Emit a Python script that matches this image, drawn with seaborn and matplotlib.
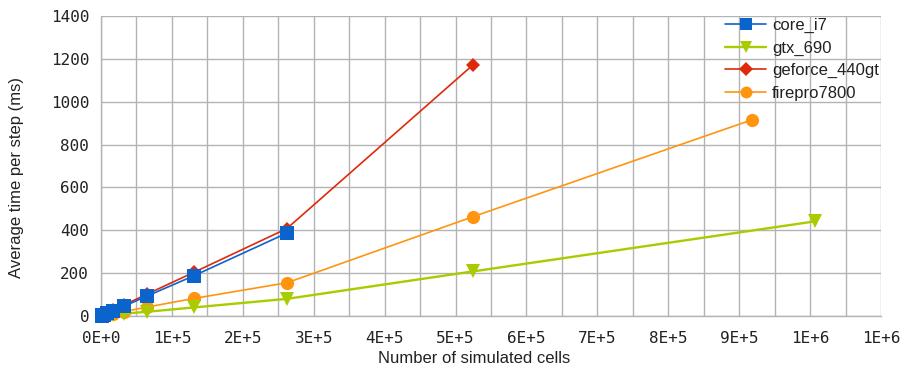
import matplotlib
matplotlib.use("Agg")
import matplotlib.pyplot as plt
from matplotlib.ticker import MultipleLocator, FuncFormatter
import seaborn as sns
import pandas as pd

# Benchmark results: average time per simulation step (ms) vs. number of cells
core_i7_cells = [1024, 2048, 4096, 8192, 16384, 32768, 65536, 131072, 262144]
core_i7_ms = [1.5, 3, 6, 12, 24, 46, 94, 188, 387]

gtx_690_cells = [4096, 8192, 16384, 32768, 65536, 131072, 262144, 524288, 1007616]
gtx_690_ms = [2, 3.5, 6, 11, 20, 40, 80, 208, 442]

geforce_440gt_cells = [1024, 2048, 4096, 8192, 16384, 32768, 65536, 131072, 262144, 524288]
geforce_440gt_ms = [1.6, 3.2, 6.5, 13, 26, 52, 103, 204, 408, 1171]

firepro7800_cells = [4096, 8192, 16384, 32768, 65536, 131072, 262144, 524288, 917504]
firepro7800_ms = [3, 5, 10, 21, 42, 82, 155, 463, 915]

series_names = ["core_i7", "gtx_690", "geforce_440gt", "firepro7800"]
series_cells = [core_i7_cells, gtx_690_cells, geforce_440gt_cells, firepro7800_cells]
series_ms = [core_i7_ms, gtx_690_ms, geforce_440gt_ms, firepro7800_ms]

frames = []
for name, cells, ms in zip(series_names, series_cells, series_ms):
    frames.append(pd.DataFrame({"cells": cells, "ms": ms, "device": name}))
df = pd.concat(frames, ignore_index=True)

colors = {
    "core_i7": "#0a64cc",
    "gtx_690": "#a8cc00",
    "geforce_440gt": "#dd2a0c",
    "firepro7800": "#ff950e",
}
markers = {"core_i7": "s", "gtx_690": "v", "geforce_440gt": "D", "firepro7800": "o"}
marker_sizes = {"core_i7": 9.5, "gtx_690": 10, "geforce_440gt": 7.5, "firepro7800": 9.5}
line_widths = {"core_i7": 1.2, "gtx_690": 1.7, "geforce_440gt": 1.2, "firepro7800": 1.2}
# first series sits on top, later ones underneath
layer = {"core_i7": 6, "gtx_690": 5, "geforce_440gt": 4, "firepro7800": 3}

sns.set_theme(style="white")
plt.rcParams["font.family"] = ["Liberation Sans", "DejaVu Sans"]

fig = plt.figure(figsize=(9.03, 3.69), dpi=100)
ax = fig.add_axes([101 / 903, 1 - 316 / 369, 780 / 903, 300 / 369])

for name in series_names:
    sub = df[df["device"] == name]
    sns.lineplot(
        data=sub, x="cells", y="ms", ax=ax, color=colors[name],
        marker=markers[name], markersize=marker_sizes[name],
        markeredgewidth=0, linewidth=line_widths[name], label=name,
        zorder=layer[name], clip_on=False,
    )

ax.set_xlim(0, 1.1e6)
ax.set_ylim(0, 1400)
ax.xaxis.set_major_locator(MultipleLocator(1e5))
ax.xaxis.set_minor_locator(MultipleLocator(5e4))
ax.yaxis.set_major_locator(MultipleLocator(200))


def sci_label(v, pos):
    s = f"{v:.0E}"
    mant, exp = s.split("E")
    return f"{mant}E{exp[0]}{int(exp[1:])}"


ax.xaxis.set_major_formatter(FuncFormatter(sci_label))

grid_col = "#b3b3b3"
ax.grid(True, which="major", color=grid_col, linewidth=1.0, zorder=0)
ax.grid(True, which="minor", axis="x", color=grid_col, linewidth=1.0, zorder=0)
ax.set_axisbelow(True)
for side in ["left", "bottom"]:
    ax.spines[side].set_color(grid_col)
    ax.spines[side].set_linewidth(1.0)
for side in ["top", "right"]:
    ax.spines[side].set_visible(False)

ax.tick_params(axis="y", which="major", direction="out", length=6.5,
               width=1, color=grid_col, labelsize=11.5, labelcolor="#222222", pad=2)
ax.tick_params(axis="x", which="major", direction="out", length=5,
               width=1, color=grid_col, labelsize=11.5, labelcolor="#222222", pad=6)
ax.tick_params(axis="x", which="minor", length=0)
for lbl in ax.get_xticklabels() + ax.get_yticklabels():
    lbl.set_family("DejaVu Sans Mono")

ax.set_xlabel("Number of simulated cells", fontsize=12, color="#222222")
ax.set_ylabel("Average time per step (ms)", fontsize=12, color="#222222")
ax.xaxis.set_label_coords(0.479, -0.117)
ax.yaxis.set_label_coords(-0.099, 0.463)

leg = ax.legend(loc="upper right", bbox_to_anchor=(1.0, 1.0), frameon=False,
                fontsize=12, handlelength=2.45, handletextpad=0.36,
                labelspacing=0.45, borderaxespad=0.0, borderpad=0.12,
                markerscale=0.9)
for t in leg.get_texts():
    t.set_color("#222222")

fig.savefig("out.png", dpi=100)
